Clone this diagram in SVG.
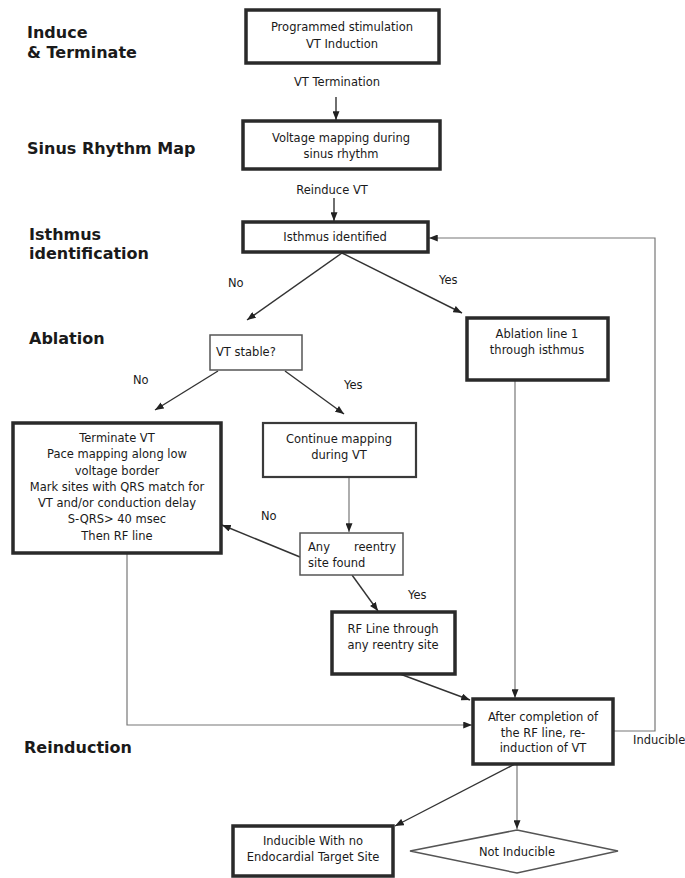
<svg xmlns="http://www.w3.org/2000/svg" width="685" height="878" viewBox="0 0 685 878">
<defs>
<style>
.lbl{font-family:"DejaVu Sans",Verdana,sans-serif;font-weight:bold;font-size:16px;fill:#1a1a1a}
.t{font-family:"DejaVu Sans",Verdana,sans-serif;font-size:11.5px;fill:#1a1a1a;text-anchor:middle}
.tl{font-family:"DejaVu Sans",Verdana,sans-serif;font-size:11.5px;fill:#1a1a1a}
.thick{fill:#fff;stroke:#2a2a2a;stroke-width:3.5}
.thin{fill:#fff;stroke:#555;stroke-width:1.5}
.mid{fill:#fff;stroke:#3a3a3a;stroke-width:2.2}
.c{fill:none;stroke:#333;stroke-width:1.4}
.cg{fill:none;stroke:#777;stroke-width:1.2}
</style>
<marker id="ah" viewBox="0 0 10 8" refX="10" refY="4" markerWidth="9" markerHeight="7" orient="auto" markerUnits="userSpaceOnUse">
<path d="M0,0 L10,4 L0,8 z" fill="#222"/>
</marker>
</defs>
<rect width="685" height="878" fill="#fff"/>

<g id="stage-labels">
<text class="lbl" x="27" y="38">Induce</text>
<text class="lbl" x="27" y="58">&amp; Terminate</text>
<text class="lbl" x="27" y="154">Sinus Rhythm Map</text>
<text class="lbl" x="29" y="240">Isthmus</text>
<text class="lbl" x="29" y="259">identification</text>
<text class="lbl" x="29" y="344">Ablation</text>
<text class="lbl" x="24" y="753">Reinduction</text>
</g>

<g id="connectors">
<line class="c" x1="336" y1="97" x2="336" y2="120" marker-end="url(#ah)"/>
<line class="c" x1="334" y1="198" x2="334" y2="221" marker-end="url(#ah)"/>
<line class="c" x1="342" y1="253" x2="247" y2="320" marker-end="url(#ah)"/>
<line class="c" x1="342" y1="253" x2="462" y2="313" marker-end="url(#ah)"/>
<line class="c" x1="218" y1="371" x2="155" y2="410" marker-end="url(#ah)"/>
<line class="c" x1="285" y1="371" x2="344" y2="414" marker-end="url(#ah)"/>
<line class="cg" x1="349" y1="477" x2="349" y2="532" marker-end="url(#ah)"/>
<line class="c" x1="300" y1="557" x2="222" y2="525" marker-end="url(#ah)"/>
<line class="c" x1="352" y1="575" x2="378" y2="611" marker-end="url(#ah)"/>
<line class="c" x1="400" y1="674" x2="470" y2="700" marker-end="url(#ah)"/>
<line class="cg" x1="515" y1="380" x2="515" y2="698" marker-end="url(#ah)"/>
<polyline class="cg" points="127,553 127,725 472,725" marker-end="url(#ah)"/>
<polyline class="cg" points="613,731 655,731 655,238 429,238" marker-end="url(#ah)"/>
<line class="c" x1="515" y1="764" x2="395" y2="826" marker-end="url(#ah)"/>
<line class="cg" x1="517" y1="764" x2="517" y2="829" marker-end="url(#ah)"/>
<text class="tl" x="228" y="287">No</text>
<text class="tl" x="439" y="284">Yes</text>
<text class="tl" x="133" y="384">No</text>
<text class="tl" x="344" y="389">Yes</text>
<text class="tl" x="261" y="520">No</text>
<text class="tl" x="408" y="599">Yes</text>
<text class="tl" x="633" y="744">Inducible</text>
<text class="t" x="337" y="86">VT Termination</text>
<text class="t" x="332" y="194">Reinduce VT</text>
</g>

<g id="n1">
<rect class="thick" x="246" y="10" width="193" height="53"/>
<text class="t" x="342" y="31">Programmed stimulation</text>
<text class="t" x="342" y="48">VT Induction</text>
</g>

<g id="n2">
<rect class="thick" x="243" y="121" width="197" height="48"/>
<text class="t" x="341" y="142">Voltage mapping during</text>
<text class="t" x="341" y="158">sinus rhythm</text>
</g>

<g id="n3">
<rect class="thick" x="243" y="222" width="185" height="30"/>
<text class="t" x="335" y="241">Isthmus identified</text>
</g>

<g id="n4">
<rect class="thin" x="210" y="335" width="92" height="35"/>
<text class="tl" x="216" y="356">VT stable?</text>
</g>

<g id="n5">
<rect class="thick" x="467" y="318" width="141" height="62"/>
<text class="t" x="537" y="338">Ablation line 1</text>
<text class="t" x="537" y="354">through isthmus</text>
</g>

<g id="n6">
<rect class="thick" x="13" y="423" width="208" height="130"/>
<text class="t" x="117" y="442">Terminate VT</text>
<text class="t" x="117" y="458">Pace mapping along low</text>
<text class="t" x="117" y="475">voltage border</text>
<text class="t" x="117" y="491">Mark sites with QRS match for</text>
<text class="t" x="117" y="507">VT and/or conduction delay</text>
<text class="t" x="117" y="523">S-QRS&gt; 40 msec</text>
<text class="t" x="117" y="540">Then RF line</text>
</g>

<g id="n7">
<rect class="mid" x="263" y="423" width="153" height="54"/>
<text class="t" x="339" y="443">Continue mapping</text>
<text class="t" x="339" y="459">during VT</text>
</g>

<g id="n8">
<rect class="thin" x="300" y="533" width="103" height="42"/>
<text class="tl" x="308" y="551">Any</text>
<text class="tl" x="396" y="551" text-anchor="end">reentry</text>
<text class="tl" x="308" y="567">site found</text>
</g>

<g id="n9">
<rect class="thick" x="332" y="612" width="123" height="62"/>
<text class="t" x="393" y="633">RF Line through</text>
<text class="t" x="393" y="649">any reentry site</text>
</g>

<g id="n10">
<rect class="thick" x="473" y="699" width="140" height="65"/>
<text class="t" x="543" y="721">After completion of</text>
<text class="t" x="543" y="737">the RF line, re-</text>
<text class="t" x="543" y="752">induction of VT</text>
</g>

<g id="n11">
<rect class="thick" x="233" y="826" width="160" height="50"/>
<text class="t" x="313" y="845">Inducible With no</text>
<text class="t" x="313" y="861">Endocardial Target Site</text>
</g>

<g id="n12">
<polygon class="thin" points="517,830 618,851 517,873 410,851"/>
<text class="t" x="517" y="856">Not Inducible</text>
</g>
</svg>
